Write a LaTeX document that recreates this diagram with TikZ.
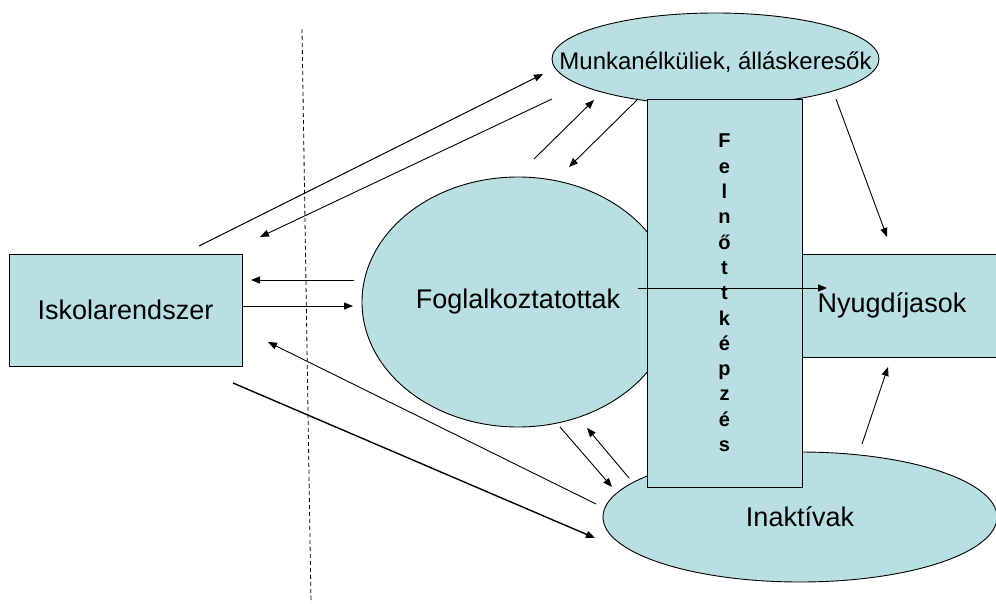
\documentclass[tikz,border=0pt]{standalone}
\usepackage{fontspec}
\setmainfont{Liberation Sans}
\usetikzlibrary{shapes.geometric,arrows.meta}
\definecolor{paleblue}{RGB}{185,223,227}

\begin{document}
\begin{tikzpicture}[x=1pt,y=-1pt,>={Triangle[length=9pt,width=7pt]},
  box/.style={draw,fill=paleblue,rectangle,inner sep=0pt,line width=0.9pt,font=\fontsize{27}{32}\selectfont},
  oval/.style={draw,fill=paleblue,ellipse,inner sep=0pt,line width=0.9pt,font=\fontsize{27}{32}\selectfont},
  flow/.style={->,line width=0.9pt}]
  \useasboundingbox (0,0) rectangle (996,604);

  % boundary of the school system
  \draw[dashed,dash pattern=on 4pt off 3pt,line width=0.8pt] (302,29) -- (311,603);

  \node[box]  (iskola) at (125.5,310) [minimum width=233pt,minimum height=112pt] {Iskolarendszer};
  \node[oval] (fogl)   at (518,302)   [minimum width=312pt,minimum height=250pt] {Foglalkoztatottak};
  \node[oval] (munk)   at (715.5,59)  [minimum width=327pt,minimum height=92pt,
                                       label={[font=\fontsize{24}{28}\selectfont,yshift=-3pt]center:Munkanélküliek, álláskeresők}] {};
  \node[oval] (inakt)  at (800,517)   [minimum width=394pt,minimum height=130pt] {Inaktívak};
  \node[box]  (nyugd)  at (902,305.5) [minimum width=200pt,minimum height=103pt] {Nyugdíjasok\hspace*{20pt}};
  \node[box]  (felno)  at (724.5,293) [minimum width=155pt,minimum height=388pt,align=center,
                                       font=\bfseries\fontsize{20}{25.3}\selectfont]
    {F\\e\\l\\n\\ő\\t\\t\\k\\é\\p\\z\\é\\s};

  % arrow ends
  \coordinate (i1) at (199,246);  \coordinate (m1) at (543,74);
  \coordinate (m2) at (552,99);   \coordinate (i2) at (260,237);
  \coordinate (f3) at (354,280);  \coordinate (i3) at (251,280);
  \coordinate (i4) at (242,306);  \coordinate (f4) at (353,306);
  \coordinate (n5) at (596,504);  \coordinate (i5) at (268,342);
  \coordinate (i6) at (233,383);  \coordinate (n6) at (595,538);
  \coordinate (f7) at (534,159);  \coordinate (m7) at (594,100);
  \coordinate (m8) at (638,99);   \coordinate (f8) at (569,167);
  \coordinate (m9) at (836,99);   \coordinate (y9) at (887,237);
  \coordinate (f10) at (560,427); \coordinate (n10) at (612,487);
  \coordinate (n11) at (629,478); \coordinate (f11) at (587,428);
  \coordinate (n12) at (862,444); \coordinate (y12) at (888,367);
  \coordinate (f13) at (638,288); \coordinate (y13) at (827,288);

  \draw[flow] (i1) -- (m1);
  \draw[flow] (m2) -- (i2);
  \draw[flow] (f3) -- (i3);
  \draw[flow] (i4) -- (f4);
  \draw[flow] (n5) -- (i5);
  \draw[flow,line width=1.4pt] (i6) -- (n6);
  \draw[flow] (f7) -- (m7);
  \draw[flow] (m8) -- (f8);
  \draw[flow] (m9) -- (y9);
  \draw[flow] (f10) -- (n10);
  \draw[flow] (n11) -- (f11);
  \draw[flow] (n12) -- (y12);
  \draw[flow] (f13) -- (y13);
\end{tikzpicture}
\end{document}
